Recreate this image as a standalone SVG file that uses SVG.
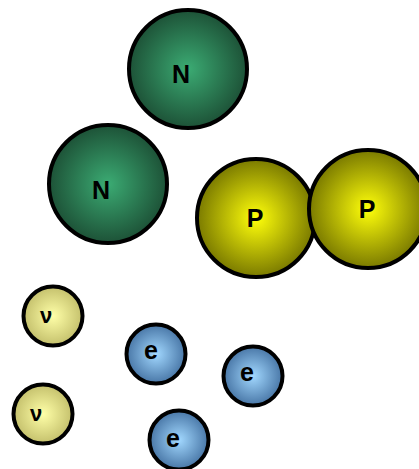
<svg xmlns="http://www.w3.org/2000/svg" width="419" height="469" viewBox="0 0 419 469">
<style>
circle{stroke:#000;stroke-width:4}
text{font-family:"Liberation Sans",Arial,sans-serif;font-weight:bold;text-anchor:middle;fill:#000}
.big{font-size:25px}
.e{font-size:25px}
.nu{font-size:22px}
</style>
<defs>
<radialGradient id="gN" cx="0.5" cy="0.5" r="0.5"><stop offset="0" stop-color="#3bab73"/><stop offset="1" stop-color="#1d5237"/></radialGradient>
<radialGradient id="gP" cx="0.5" cy="0.5" r="0.5"><stop offset="0" stop-color="#ffff0a"/><stop offset="1" stop-color="#7a7a00"/></radialGradient>
<radialGradient id="gV" cx="0.5" cy="0.5" r="0.5"><stop offset="0" stop-color="#ffffa8"/><stop offset="1" stop-color="#c4c06c"/></radialGradient>
<radialGradient id="gE" cx="0.5" cy="0.5" r="0.5"><stop offset="0" stop-color="#a2d8ff"/><stop offset="1" stop-color="#4876a6"/></radialGradient>
</defs>
<g id="connectors"/>
<g id="n1"><circle cx="188" cy="69" r="59" fill="url(#gN)"/><text class="big" x="181" y="83">N</text></g>
<g id="n2"><circle cx="108" cy="184" r="59" fill="url(#gN)"/><text class="big" x="101" y="199">N</text></g>
<g id="p1"><circle cx="256" cy="218" r="59" fill="url(#gP)"/><text class="big" x="255" y="227">P</text></g>
<g id="p2"><circle cx="368" cy="209" r="59" fill="url(#gP)"/><text class="big" x="367" y="218">P</text></g>
<g id="v1"><circle cx="53" cy="316" r="29.5" fill="url(#gV)"/><text class="nu" x="46" y="323">ν</text></g>
<g id="v2"><circle cx="43" cy="414" r="29.5" fill="url(#gV)"/><text class="nu" x="36" y="421">ν</text></g>
<g id="e1"><circle cx="156" cy="354" r="29.5" fill="url(#gE)"/><text class="e" x="151" y="359">e</text></g>
<g id="e2"><circle cx="253" cy="376" r="29.5" fill="url(#gE)"/><text class="e" x="247" y="381">e</text></g>
<g id="e3"><circle cx="179" cy="440" r="29.5" fill="url(#gE)"/><text class="e" x="173" y="447">e</text></g>
</svg>
